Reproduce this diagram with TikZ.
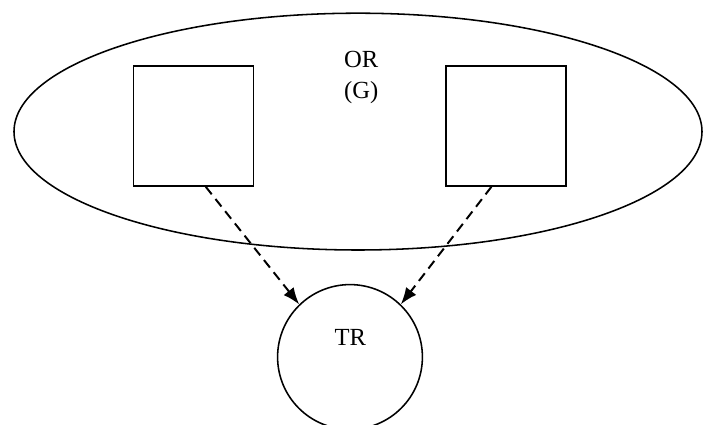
\documentclass[tikz,border=0pt]{standalone}
\usepackage{fontspec}
\setmainfont{Liberation Serif}
\usetikzlibrary{arrows.meta,calc}
\begin{document}
\begin{tikzpicture}[>={Latex[length=0.42cm,width=0.32cm]},
  box/.style={draw,line width=1.1pt,minimum size=3cm,inner sep=0pt},
  txt/.style={font=\fontsize{17.5}{22}\selectfont,align=center}]
\useasboundingbox (0,0) rectangle (17.575,-10.625);

\draw [line width=1.1pt] (8.95,-3.29) ellipse (8.6 and 2.96);
\node [txt] at (9.03,-1.94) {OR\\(G)};

\node [box] (sqL) at (4.84,-3.15) {};
\node [box] (sqR) at (12.65,-3.15) {};

\node [draw,circle,line width=1.1pt,minimum size=3.62cm,inner sep=0pt] (tr) at (8.75,-8.925) {};
\node [txt] at (8.76,-8.43) {TR};

\draw [->,line width=1.4pt,dash pattern=on 0.24cm off 0.15cm]
  ($(sqL.south west)!0.6!(sqL.south east)$) -- (tr.134);
\draw [->,line width=1.4pt,dash pattern=on 0.24cm off 0.15cm]
  ($(sqR.south west)!0.38!(sqR.south east)$) -- (tr.46);

\end{tikzpicture}
\end{document}
